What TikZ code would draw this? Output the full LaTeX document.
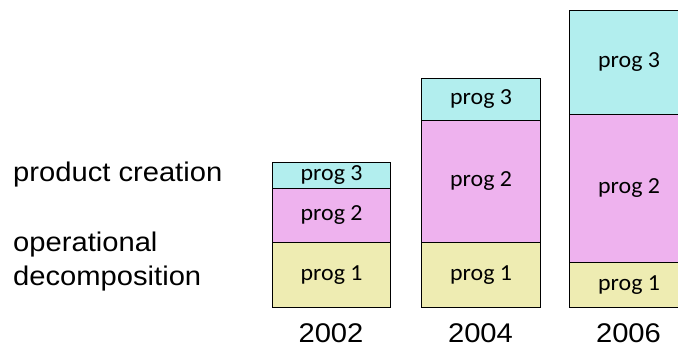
\documentclass[tikz,border=0pt]{standalone}
\usepackage{fontspec}
\setmainfont[FakeStretch=1.08]{Liberation Sans}
\newfontfamily\calfont[FakeStretch=1.04]{Carlito}
\definecolor{cyanfill}{RGB}{178,238,238}
\definecolor{pinkfill}{RGB}{238,178,238}
\definecolor{yellowfill}{RGB}{238,236,178}
\begin{document}
\begin{tikzpicture}[x=1pt,y=1pt,
  seg/.style={draw=black,line width=1.2pt,inner sep=0pt,anchor=south west,
    font=\calfont\fontsize{23}{26}\selectfont},
  p1/.style={seg,fill=yellowfill},
  p2/.style={seg,fill=pinkfill},
  p3/.style={seg,fill=cyanfill},
  lbl/.style={inner sep=0pt,anchor=base west,font=\fontsize{27}{31}\selectfont},
  yr/.style={inner sep=0pt,anchor=base,font=\fontsize{27}{31}\selectfont}]
\useasboundingbox (0,0) rectangle (678,351);
\clip (0,0) rectangle (678,351);
% bar 2002
\node[p1,minimum width=118,minimum height=65] (a1) at (272,43) {prog 1};
\node[p2,minimum width=118,minimum height=54] (a2) at (272,108) {prog 2};
\node[p3,minimum width=118,minimum height=26] (a3) at (272,162) {prog 3};
% bar 2004
\node[p1,minimum width=119,minimum height=65] (b1) at (421,43) {prog 1};
\node[p2,minimum width=119,minimum height=122] (b2) at (421,108) {prog 2};
\node[p3,minimum width=119,minimum height=42] (b3) at (421,230) {prog 3};
% bar 2006
\node[p1,minimum width=119,minimum height=45] (c1) at (569,43) {prog 1};
\node[p2,minimum width=119,minimum height=148] (c2) at (569,88) {prog 2};
\node[p3,minimum width=119,minimum height=104] (c3) at (569,236) {prog 3};
% years
\node[yr] (y1) at (331,8) {2002};
\node[yr] (y2) at (480.5,8) {2004};
\node[yr] (y3) at (628.5,8) {2006};
% left labels
\node[lbl] (pc) at (13,169) {product creation};
\node[lbl] (op) at (13,99) {operational};
\node[lbl] (dc) at (13,65) {decomposition};
\end{tikzpicture}
\end{document}
